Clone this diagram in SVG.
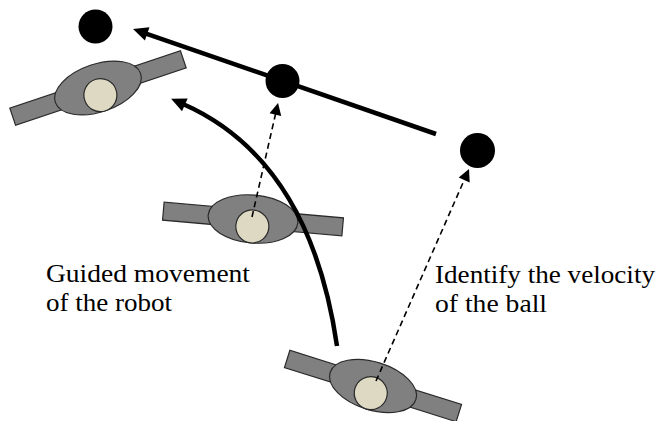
<svg xmlns="http://www.w3.org/2000/svg" width="660" height="421" viewBox="0 0 660 421">
  <style>
    .wheel { fill: #808080; stroke: #2a2a2a; stroke-width: 1.2; }
    .body { fill: #808080; stroke: #2a2a2a; stroke-width: 1.2; }
    .core { fill: #ddd9c3; stroke: #2a2a2a; stroke-width: 1.2; }
    .ball { fill: #000; }
    .thick { fill: none; stroke: #000; stroke-width: 4.5; }
    .dash { fill: none; stroke: #000; stroke-width: 1.6; stroke-dasharray: 6 4; }
    text { font-family: Liberation Serif, Times New Roman, Times, serif; font-size: 26px; fill: #000; }
  </style>
  <defs>
    <marker id="headBig" markerUnits="userSpaceOnUse" markerWidth="16" markerHeight="15" refX="2" refY="7" orient="auto" overflow="visible">
      <path d="M0,0 L15,7 L0,14 z" fill="#000"/>
    </marker>
    <marker id="headSmall" markerUnits="userSpaceOnUse" markerWidth="13" markerHeight="13" refX="1" refY="6" orient="auto" overflow="visible">
      <path d="M0,0 L12,6 L0,12 z" fill="#000"/>
    </marker>
    <!-- robot drawn around its own centre, pointing along +x -->
    <g id="robot">
      <rect class="wheel" x="-90" y="-9" width="50" height="18"/>
      <rect class="wheel" x="40" y="-9" width="50" height="18"/>
      <ellipse class="body" cx="0" cy="0" rx="45" ry="24"/>
      <circle class="core" cx="0" cy="7.5" r="16.5"/>
    </g>
  </defs>

  <g id="robot-top">
    <use href="#robot" transform="translate(98,88) rotate(-18.6)"/>
  </g>
  <g id="robot-middle">
    <use href="#robot" transform="translate(253,219) rotate(5)"/>
  </g>
  <g id="robot-bottom">
    <use href="#robot" transform="translate(373,386) rotate(17.5)"/>
  </g>

  <g id="ball-left">
    <circle class="ball" cx="95.5" cy="26.5" r="17"/>
  </g>
  <g id="ball-middle">
    <circle class="ball" cx="282.5" cy="81" r="17"/>
  </g>
  <g id="ball-right">
    <circle class="ball" cx="477.5" cy="150.5" r="17.5"/>
  </g>

  <g id="connectors">
    <!-- ball trajectory -->
    <line class="thick" x1="436" y1="134" x2="145.3" y2="33.3" marker-end="url(#headBig)"/>
    <!-- guided robot path -->
    <path class="thick" d="M337,346 Q310,160 183,104" marker-end="url(#headBig)"/>
    <!-- velocity sensing -->
    <line class="dash" x1="252" y1="217" x2="275.6" y2="113.7" marker-end="url(#headSmall)"/>
    <line class="dash" x1="376" y1="381" x2="464.6" y2="179.1" marker-end="url(#headSmall)"/>
  </g>

  <g id="label-robot">
    <text x="46" y="282" textLength="204" lengthAdjust="spacingAndGlyphs">Guided movement</text>
    <text x="46" y="311" textLength="126" lengthAdjust="spacingAndGlyphs">of the robot</text>
  </g>
  <g id="label-ball">
    <text x="435" y="283" textLength="220" lengthAdjust="spacingAndGlyphs">Identify the velocity</text>
    <text x="435" y="312" textLength="112" lengthAdjust="spacingAndGlyphs">of the ball</text>
  </g>
</svg>
